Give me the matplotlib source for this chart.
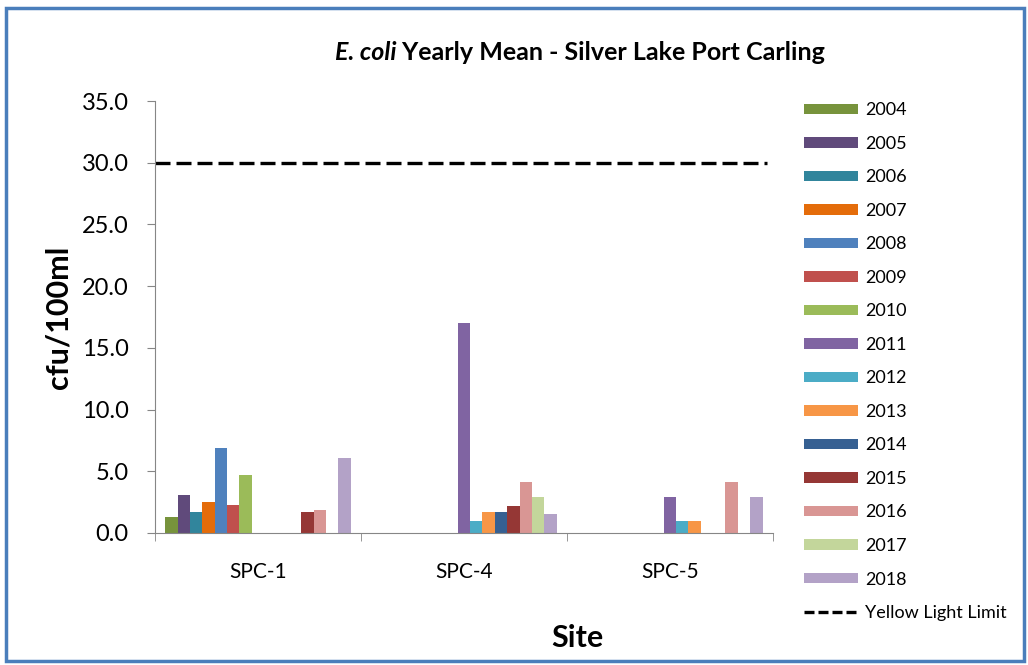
import numpy as np
import matplotlib
matplotlib.use("Agg")
import matplotlib.pyplot as plt
from matplotlib.patches import Rectangle
from matplotlib.lines import Line2D

plt.rcParams['font.family'] = ['Lato', 'DejaVu Sans']

# Data
sites = ['SPC-1', 'SPC-4', 'SPC-5']
years = ['2004', '2005', '2006', '2007', '2008', '2009', '2010', '2011',
         '2012', '2013', '2014', '2015', '2016', '2017', '2018']

# yearly mean per site (cfu/100ml), one list per site, in year order
spc1 = [1.3, 3.1, 1.7, 2.5, 6.9, 2.3, 4.7, 0, 0, 0, 0, 1.7, 1.9, 0, 6.1]
spc4 = [0, 0, 0, 0, 0, 0, 0, 17.0, 1.0, 1.7, 1.7, 2.2, 4.1, 2.9, 1.5]
spc5 = [0, 0, 0, 0, 0, 0, 0, 2.9, 1.0, 1.0, 0, 0, 4.1, 0, 2.9]
yellow_limit = 30.0

colors = ['#77933C', '#604A7B', '#31859C', '#E46C0A', '#4F81BD', '#C0504D',
          '#9BBB59', '#8064A2', '#4BACC6', '#F79646', '#366092', '#953735',
          '#D99694', '#C3D69B', '#B3A2C7']

values = np.array([spc1, spc4, spc5])  # sites x years

fig = plt.figure(figsize=(10.28, 6.65), dpi=100)
ax = fig.add_axes([0.1508, 0.1985, 0.601, 0.6496])

x = np.arange(len(sites))
n = len(years)
bw = 0.9 / n
for i, yr in enumerate(years):
    ax.bar(x + (i - (n - 1) / 2) * bw, values[:, i], width=bw,
           color=colors[i], label=yr)

ax.axhline(yellow_limit, xmax=0.99, color='black', linestyle=(0, (4.5, 1.8)), linewidth=2.4)

ax.set_xlim(-0.5, 2.5)
ax.set_ylim(0, 35)
yt = np.arange(0, 35.1, 5)
ax.set_yticks(yt)
ax.set_yticklabels([f'{v:.1f}' for v in yt], fontsize=17)
ax.set_xticks(x)
ax.set_xticklabels(sites, fontsize=15)
ax.set_xticks([-0.5, 0.5, 1.5, 2.5], minor=True)
ax.tick_params(axis='x', which='major', length=0, pad=21)
ax.tick_params(axis='x', which='minor', length=6, direction='out', color='#868686')
ax.tick_params(axis='y', length=6, direction='out', color='#868686', pad=13)

for s in ['top', 'right']:
    ax.spines[s].set_visible(False)
for s in ['left', 'bottom']:
    ax.spines[s].set_color('#868686')

ax.set_ylabel('cfu/100ml', fontsize=22, fontweight='bold')
ax.yaxis.set_label_coords(-0.133, 0.5)
ax.set_xlabel('Site', fontsize=22, fontweight='bold')
ax.xaxis.set_label_coords(0.684, -0.21)

# title: italic species name + bold rest, centred around x=580px
t1 = fig.text(0, 0.921, 'E. coli', fontsize=18, fontweight='bold', style='italic', va='center')
t2 = fig.text(0, 0.921, ' Yearly Mean - Silver Lake Port Carling', fontsize=18,
              fontweight='bold', va='center')
fig.canvas.draw()
r = fig.canvas.get_renderer()
w1 = t1.get_window_extent(r).width
w2 = t2.get_window_extent(r).width
x0 = 580 - (w1 + w2) / 2
t1.set_x(x0 / 1028)
t2.set_x((x0 + w1) / 1028)

handles, labels = ax.get_legend_handles_labels()
handles.append(Line2D([0], [0], color='black', linestyle=(0, (3, 1.2)), linewidth=2.4))
labels.append('Yellow Light Limit')
fig.legend(handles, labels, loc='upper left', bbox_to_anchor=(0.775, 0.857),
           frameon=False, fontsize=13, handlelength=3.0, handleheight=0.5,
           handletextpad=0.4, labelspacing=0.97, borderaxespad=0)

# outer chart frame
fig.patches.append(Rectangle((6 / 1028, 4 / 665), 1018 / 1028, 653 / 665,
                             transform=fig.transFigure, fill=False,
                             edgecolor='#4A7EBB', linewidth=2.5))

fig.savefig('out.png', dpi=100)
